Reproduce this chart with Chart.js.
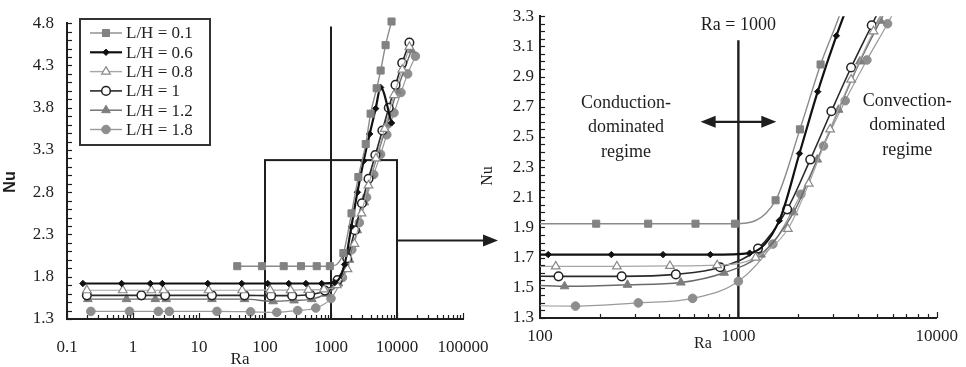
<!DOCTYPE html>
<html>
<head>
<meta charset="utf-8">
<script src="https://cdn.jsdelivr.net/npm/chart.js@4.4.1/dist/chart.umd.min.js"></script>
<style>
  body { margin: 0; background: #fff; width: 966px; height: 367px; overflow: hidden; position: relative; }
  canvas { position: absolute; top: 0; }
  #leftChart { left: 0; }
  #rightChart { left: 470px; }
</style>
</head>
<body>
<canvas id="leftChart" width="510" height="367" style="width:510px;height:367px"></canvas>
<canvas id="rightChart" width="496" height="367" style="width:496px;height:367px"></canvas>
<script>
// Nu vs Ra for each aspect ratio L/H
const seriesLabels = ['L/H = 0.1', 'L/H = 0.6', 'L/H = 0.8', 'L/H = 1', 'L/H = 1.2', 'L/H = 1.8'];

const ra01 = [38, 90, 192, 351, 608, 961, 1540, 2043, 2597, 3360, 3980, 4920, 5650, 6714, 8260];
const nu01 = [1.925, 1.925, 1.925, 1.925, 1.925, 1.925, 2.08, 2.55, 2.98, 3.37, 3.73, 4.03, 4.24, 4.54, 4.82];

const ra06 = [0.174, 0.671, 1.83, 2.78, 13.6, 44.4, 110, 229, 417, 722, 1140, 1607, 2032, 2511, 3119, 3855, 4750, 5650, 8260];
const nu06 = [1.72, 1.72, 1.72, 1.72, 1.72, 1.72, 1.72, 1.72, 1.72, 1.72, 1.73, 1.945, 2.39, 2.80, 3.17, 3.49, 3.79, 4.04, 3.62];

const ra08 = [0.2, 0.7, 1.9, 2.9, 14, 45, 120, 244, 452, 782, 1222, 1776, 2264, 2900, 3700, 4800, 6500, 9000, 12000, 15400];
const nu08 = [1.64, 1.64, 1.64, 1.64, 1.64, 1.64, 1.642, 1.642, 1.645, 1.65, 1.70, 1.89, 2.19, 2.55, 2.88, 3.2, 3.55, 3.95, 4.25, 4.52];

const ra10 = [0.2, 1.34, 3.08, 15.7, 49, 124, 258, 484, 809, 1256, 1762, 2303, 2943, 3700, 4700, 6000, 7500, 9500, 12000, 15400];
const nu10 = [1.58, 1.58, 1.58, 1.58, 1.58, 1.576, 1.576, 1.589, 1.636, 1.76, 2.02, 2.35, 2.67, 2.96, 3.24, 3.53, 3.8, 4.07, 4.33, 4.57];

const ra12 = [0.207, 0.798, 2.18, 3.19, 15.7, 49, 133, 276, 513, 847, 1300, 1900, 2500, 3200, 4100, 5200, 7000, 10000, 16500];
const nu12 = [1.535, 1.535, 1.535, 1.535, 1.535, 1.535, 1.51, 1.52, 1.535, 1.60, 1.72, 2.0, 2.35, 2.68, 3.0, 3.27, 3.6, 4.0, 4.48];

const ra18 = [0.23, 0.886, 2.42, 3.54, 18.7, 60.5, 151, 313, 588, 1000, 1492, 2065, 2686, 3455, 4444, 5650, 7000, 9000, 11500, 14500, 19000];
const nu18 = [1.39, 1.39, 1.39, 1.39, 1.39, 1.385, 1.379, 1.40, 1.43, 1.543, 1.79, 2.12, 2.44, 2.74, 3.01, 3.25, 3.48, 3.74, 3.98, 4.2, 4.41];

// axis ticks
const leftXTicks = [0.1, 1, 10, 100, 1000, 10000, 100000];
const leftYTicks = [1.3, 1.8, 2.3, 2.8, 3.3, 3.8, 4.3, 4.8];
const rightXTicks = [100, 1000, 10000];
const rightYTicks = [1.3, 1.5, 1.7, 1.9, 2.1, 2.3, 2.5, 2.7, 2.9, 3.1, 3.3];

// zoom window shown on the left panel
const zoomRa = [100, 10000];
const zoomNu = [1.3, 3.18];

const serif = 'Liberation Serif, Times New Roman, serif';
const ink = '#1e1e1e';

const styles = [
  { line: '#8a8a8a', lw: 1.4, marker: 'rect',     r: 5,   fill: '#828282', edge: '#828282', ew: 1 },
  { line: '#111111', lw: 2.2, marker: 'rectRot',  r: 3.2, fill: '#111111', edge: '#111111', ew: 1 },
  { line: '#a6a6a6', lw: 1.2, marker: 'triangle', r: 5,   fill: '#ffffff', edge: '#8a8a8a', ew: 1.2 },
  { line: '#2a2a2a', lw: 1.6, marker: 'circle',   r: 4.3, fill: '#ffffff', edge: '#222222', ew: 1.5 },
  { line: '#6a6a6a', lw: 1.4, marker: 'triangle', r: 5,   fill: '#7e7e7e', edge: '#7e7e7e', ew: 1 },
  { line: '#9a9a9a', lw: 1.2, marker: 'circle',   r: 4.3, fill: '#8e8e8e', edge: '#8e8e8e', ew: 1 }
];
const raSets = [ra01, ra06, ra08, ra10, ra12, ra18];
const nuSets = [nu01, nu06, nu08, nu10, nu12, nu18];

function makeDatasets(clip) {
  return seriesLabels.map((label, i) => ({
    label: label,
    data: raSets[i].map((r, j) => ({ x: r, y: nuSets[i][j] })),
    borderColor: styles[i].line,
    borderWidth: styles[i].lw,
    pointStyle: styles[i].marker,
    pointRadius: styles[i].r,
    pointBackgroundColor: styles[i].fill,
    pointBorderColor: styles[i].edge,
    pointBorderWidth: styles[i].ew,
    cubicInterpolationMode: 'monotone',
    fill: false,
    clip: clip
  }));
}

function drawMarker(ctx, st, x, y) {
  ctx.save();
  ctx.fillStyle = st.fill;
  ctx.strokeStyle = st.edge;
  ctx.lineWidth = st.ew;
  ctx.beginPath();
  const r = st.r;
  if (st.marker === 'rect') {
    const s = r * Math.SQRT1_2;
    ctx.rect(x - s, y - s, 2 * s, 2 * s);
  } else if (st.marker === 'rectRot') {
    ctx.moveTo(x, y - r); ctx.lineTo(x + r, y); ctx.lineTo(x, y + r); ctx.lineTo(x - r, y); ctx.closePath();
  } else if (st.marker === 'triangle') {
    ctx.moveTo(x, y - r); ctx.lineTo(x + r * 0.866, y + r * 0.5); ctx.lineTo(x - r * 0.866, y + r * 0.5); ctx.closePath();
  } else {
    ctx.arc(x, y, r, 0, Math.PI * 2);
  }
  ctx.fill();
  ctx.stroke();
  ctx.restore();
}

function seg(ctx, x0, y0, x1, y1, w) {
  ctx.lineWidth = w;
  ctx.beginPath();
  ctx.moveTo(x0, y0);
  ctx.lineTo(x1, y1);
  ctx.stroke();
}

function arrowHead(ctx, x, y, dir) {
  ctx.beginPath();
  ctx.moveTo(x, y);
  ctx.lineTo(x - dir * 15, y - 6);
  ctx.lineTo(x - dir * 15, y + 6);
  ctx.closePath();
  ctx.fill();
}

// minor ticks pointing into the plot
function drawInnerTicks(ctx, x, y, yStep) {
  ctx.strokeStyle = ink;
  const a = x.chart.chartArea;
  const n = Math.round((y.max - y.min) / yStep);
  for (let i = 0; i <= n; i++) {
    const py = Math.round(y.getPixelForValue(y.min + i * yStep)) + 0.5;
    seg(ctx, a.left, py, a.left + 5, py, 1.2);
  }
  for (let e = Math.log10(x.min); e < Math.log10(x.max) + 0.01; e++) {
    for (let k = 1; k <= 9; k++) {
      const v = k * Math.pow(10, e);
      if (v > x.max * 1.001) break;
      const px = Math.round(x.getPixelForValue(v)) + 0.5;
      seg(ctx, px, a.bottom, px, a.bottom - (k === 1 ? 6 : 4), 1.2);
    }
  }
}

const leftDecor = {
  id: 'leftDecor',
  beforeDatasetsDraw(chart) {
    const { ctx, scales: { x, y }, chartArea: a } = chart;
    ctx.save();
    ctx.strokeStyle = ink;
    ctx.fillStyle = ink;
    const x1000 = x.getPixelForValue(1000);
    seg(ctx, x1000, y.getPixelForValue(4.76), x1000, a.bottom, 2);
    const bx0 = x.getPixelForValue(zoomRa[0]);
    const bx1 = x.getPixelForValue(zoomRa[1]);
    const by0 = y.getPixelForValue(zoomNu[1]);
    ctx.lineWidth = 2;
    ctx.strokeRect(bx0, by0, bx1 - bx0, a.bottom - by0);
    const ay = y.getPixelForValue(2.23);
    seg(ctx, bx1, ay, 485, ay, 2);
    arrowHead(ctx, 498, ay, 1);
    ctx.restore();
  },
  afterDraw(chart) {
    const { ctx, scales: { x, y } } = chart;
    ctx.save();
    drawInnerTicks(ctx, x, y, 0.1);
    // legend box
    ctx.strokeStyle = '#333';
    ctx.lineWidth = 2;
    ctx.fillStyle = '#fff';
    ctx.fillRect(80, 19, 130, 126);
    ctx.strokeRect(80, 19, 130, 126);
    ctx.font = '17px ' + serif;
    ctx.textBaseline = 'middle';
    ctx.textAlign = 'left';
    seriesLabels.forEach((lab, i) => {
      const ly = 33 + i * 19.3;
      ctx.strokeStyle = styles[i].line;
      seg(ctx, 90, ly, 122, ly, Math.max(styles[i].lw, 1.4));
      drawMarker(ctx, styles[i], 106, ly);
      ctx.fillStyle = ink;
      ctx.fillText(lab, 126, ly + 1);
    });
    // axis titles
    ctx.fillStyle = ink;
    ctx.font = 'bold 16px Liberation Sans, Arial, sans-serif';
    ctx.textAlign = 'center';
    ctx.save();
    ctx.translate(11, 182);
    ctx.rotate(-Math.PI / 2);
    ctx.fillText('Nu', 0, 0);
    ctx.restore();
    ctx.font = '17px ' + serif;
    ctx.fillText('Ra', 240, 360);
    ctx.restore();
  }
};

const rightDecor = {
  id: 'rightDecor',
  beforeDatasetsDraw(chart) {
    const { ctx, scales: { x, y }, chartArea: a } = chart;
    ctx.save();
    ctx.strokeStyle = ink;
    ctx.fillStyle = ink;
    const x1000 = x.getPixelForValue(1000);
    seg(ctx, x1000, y.getPixelForValue(3.14), x1000, a.bottom, 2.4);
    ctx.restore();
  },
  afterDraw(chart) {
    const { ctx, scales: { x, y } } = chart;
    ctx.save();
    drawInnerTicks(ctx, x, y, 0.05);
    ctx.strokeStyle = ink;
    ctx.fillStyle = ink;
    const x1000 = x.getPixelForValue(1000);
    // double arrow
    const ay = y.getPixelForValue(2.6);
    const ax0 = x.getPixelForValue(645), ax1 = x.getPixelForValue(1553);
    seg(ctx, ax0 + 8, ay, ax1 - 8, ay, 2.4);
    arrowHead(ctx, ax0, ay, -1);
    arrowHead(ctx, ax1, ay, 1);
    ctx.font = '18px ' + serif;
    ctx.textAlign = 'center';
    ctx.textBaseline = 'middle';
    ctx.fillText('Ra = 1000', x1000, 25);
    const cx = x.getPixelForValue(271), vx = x.getPixelForValue(7100);
    ['Conduction-', 'dominated', 'regime'].forEach((t, i) => ctx.fillText(t, cx, 103 + i * 24.5));
    ['Convection-', 'dominated', 'regime'].forEach((t, i) => ctx.fillText(t, vx, 101 + i * 24.5));
    ctx.font = '16px ' + serif;
    ctx.save();
    ctx.translate(18, 176);
    ctx.rotate(-Math.PI / 2);
    ctx.fillText('Nu', 0, 0);
    ctx.restore();
    ctx.fillText('Ra', 233, 344);
    ctx.restore();
  }
};

function axisX(min, max, tickVals, h, pad) {
  return {
    type: 'logarithmic', min: min, max: max,
    afterBuildTicks: s => { s.ticks = tickVals.map(v => ({ value: v })); },
    afterFit: s => { s.height = h; },
    grid: { display: false, drawTicks: false },
    border: { display: true, color: ink, width: 2 },
    ticks: { autoSkip: false, maxRotation: 0, padding: pad, color: ink,
      font: { family: serif, size: 17 }, callback: v => String(v) }
  };
}
function axisY(min, max, tickVals, w, pad) {
  return {
    type: 'linear', min: min, max: max,
    afterBuildTicks: s => { s.ticks = tickVals.map(v => ({ value: v })); },
    afterFit: s => { s.width = w; },
    grid: { display: false, drawTicks: false },
    border: { display: true, color: ink, width: 2 },
    ticks: { padding: pad, color: ink, font: { family: serif, size: 17 }, callback: v => v.toFixed(1) }
  };
}

new Chart(document.getElementById('leftChart'), {
  type: 'line',
  data: { datasets: makeDatasets(false) },
  options: {
    responsive: false, animation: false, parsing: true,
    layout: { padding: { left: 0, top: 22, right: 47, bottom: 0 } },
    plugins: { legend: { display: false }, tooltip: { enabled: false } },
    scales: { x: axisX(0.1, 100000, leftXTicks, 48, 18), y: axisY(1.3, 4.8, leftYTicks, 67, 13) }
  },
  plugins: [leftDecor]
});

new Chart(document.getElementById('rightChart'), {
  type: 'line',
  data: { datasets: makeDatasets(0) },
  options: {
    responsive: false, animation: false,
    layout: { padding: { left: 0, top: 14, right: 23, bottom: 0 } },
    plugins: { legend: { display: false }, tooltip: { enabled: false } },
    scales: { x: axisX(100, 10000, rightXTicks, 49, 8), y: axisY(1.3, 3.3, rightYTicks, 70, 6) }
  },
  plugins: [rightDecor]
});
</script>
</body>
</html>
